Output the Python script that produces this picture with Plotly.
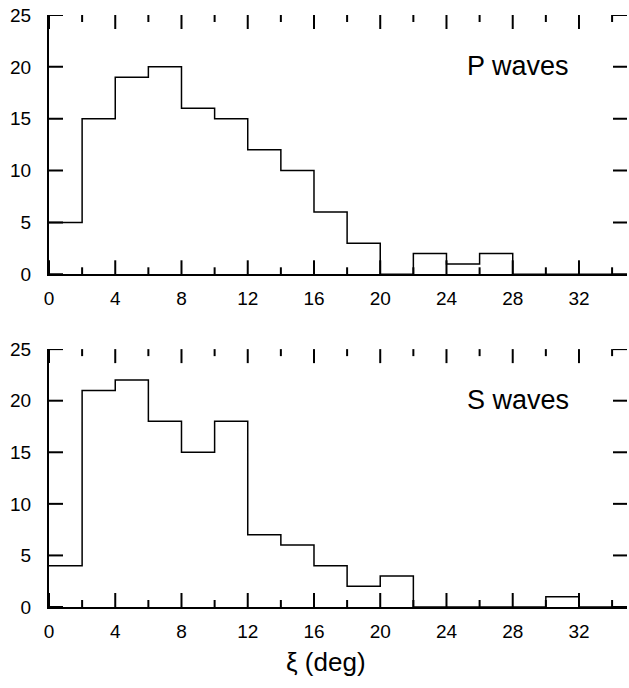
import plotly.graph_objects as go
from plotly.subplots import make_subplots

bin_edges = [0, 2, 4, 6, 8, 10, 12, 14, 16, 18, 20, 22, 24, 26, 28, 30, 32, 34]
p_counts = [5, 15, 19, 20, 16, 15, 12, 10, 6, 3, 0, 2, 1, 2, 0, 0, 0]
s_counts = [4, 21, 22, 18, 15, 18, 7, 6, 4, 2, 3, 0, 0, 0, 0, 1, 0]
x_ticks = [0, 4, 8, 12, 16, 20, 24, 28, 32]
x_minor_ticks = [2, 6, 10, 14, 18, 22, 26, 30, 34]
y_ticks = [0, 5, 10, 15, 20, 25]
panel_labels = ["P waves", "S waves"]
x_title = "ξ (deg)"

FONT = "Liberation Sans, Arial, Helvetica, sans-serif"

# layout geometry (pixels)
W, H = 629, 688
M_L, M_R, M_T, M_B = 49, 2, 15, 81
PLOT_W = W - M_L - M_R
PLOT_H = H - M_T - M_B
Y_DOMAINS = [[0.562, 1.0], [0.0, 0.4356]]
MAJOR_LEN, MINOR_LEN = 14, 7

fig = make_subplots(rows=2, cols=1, vertical_spacing=0.1)

for i, counts in enumerate([p_counts, s_counts]):
    fig.add_trace(
        go.Scatter(
            x=bin_edges,
            y=counts + [counts[-1]],
            mode="lines",
            line=dict(shape="hv", color="black", width=1.5),
            showlegend=False,
            hoverinfo="skip",
        ),
        row=i + 1, col=1,
    )

base = dict(showgrid=False, zeroline=False, showline=True, linecolor="black", linewidth=2,
            ticks="outside", tickcolor="rgba(0,0,0,0)", tickwidth=1,
            tickfont=dict(family=FONT, size=19, color="black"))

fig.update_layout(
    template="none",
    xaxis=dict(base, range=[0, 34.9], tickvals=x_ticks, domain=[0, 1], ticklen=6),
    yaxis=dict(base, range=[0, 25], tickvals=y_ticks, domain=Y_DOMAINS[0], ticklen=12),
    xaxis2=dict(base, range=[0, 34.9], tickvals=x_ticks, domain=[0, 1], ticklen=6),
    yaxis2=dict(base, range=[0, 25], tickvals=y_ticks, domain=Y_DOMAINS[1], ticklen=12),
)

# inward tick marks on all four sides of each panel
tick_line = dict(color="black", width=2)
for i in range(2):
    xr = "x" if i == 0 else "x2"
    yr = "y" if i == 0 else "y2"
    panel_h = (Y_DOMAINS[i][1] - Y_DOMAINS[i][0]) * PLOT_H
    for vals, ln in ((x_ticks, MAJOR_LEN), (x_minor_ticks, MINOR_LEN)):
        f = ln / panel_h
        for v in vals:
            fig.add_shape(type="line", xref=xr, yref=yr + " domain", x0=v, x1=v, y0=0, y1=f,
                          line=tick_line, layer="above")
            fig.add_shape(type="line", xref=xr, yref=yr + " domain", x0=v, x1=v, y0=1, y1=1 - f,
                          line=tick_line, layer="above")
    fx = MAJOR_LEN / PLOT_W
    for v in y_ticks:
        fig.add_shape(type="line", xref=xr + " domain", yref=yr, x0=0, x1=fx, y0=v, y1=v,
                      line=tick_line, layer="above")
        fig.add_shape(type="line", xref=xr + " domain", yref=yr, x0=1, x1=1 - fx, y0=v, y1=v,
                      line=tick_line, layer="above")

for i, lab in enumerate(panel_labels):
    fig.add_annotation(
        x=25.1, y=20.1, xref="x" if i == 0 else "x2", yref="y" if i == 0 else "y2",
        text=lab, showarrow=False, xanchor="left", yanchor="middle",
        font=dict(family=FONT, size=27, color="black"),
    )

fig.add_annotation(
    x=0.479, y=-55 / PLOT_H, xref="paper", yref="paper", text=x_title, showarrow=False,
    xanchor="center", yanchor="middle", font=dict(family=FONT, size=26, color="black"),
)

fig.update_layout(
    width=W, height=H,
    margin=dict(l=M_L, r=M_R, t=M_T, b=M_B),
    paper_bgcolor="white", plot_bgcolor="white",
)

fig.write_html("out.html")
